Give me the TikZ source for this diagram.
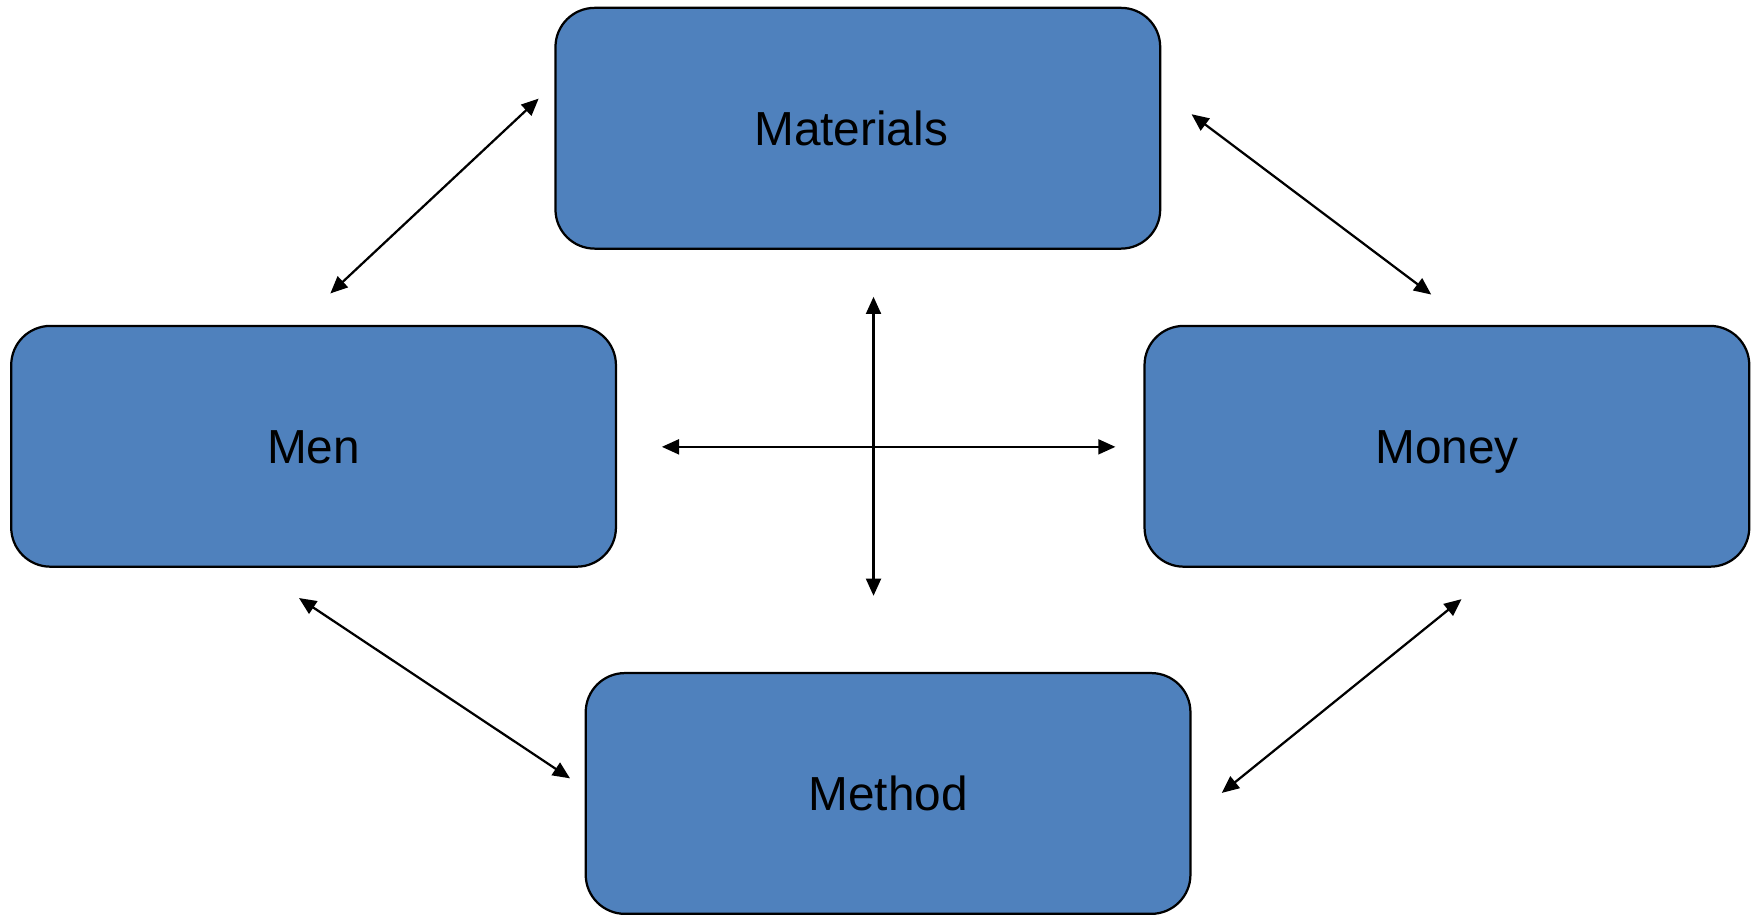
\documentclass[tikz,border=0pt]{standalone}
\usepackage{fontspec}
\setmainfont{Liberation Sans}
\usetikzlibrary{arrows.meta}
\definecolor{boxblue}{HTML}{4F81BD}
\tikzset{
  mbox/.style={draw=black, line width=0.6pt, fill=boxblue, rounded corners=10.5pt,
    minimum width=162pt, minimum height=64.5pt, inner sep=0pt,
    font=\fontsize{12.8pt}{14pt}\selectfont, text height=0.9em, text depth=0pt},
  link/.style={line width=0.6pt, {Triangle[length=4.6pt,width=4pt]}-{Triangle[length=4.6pt,width=4pt]}}
}
\begin{document}
\begin{tikzpicture}[x=0.3pt,y=-0.3pt]
\useasboundingbox (0,0) rectangle (1568,818);
\node[mbox] (mat) at (766,114.5) {\hspace*{-3.6pt}Materials};
\node[mbox] (men) at (280,398.5) {Men};
\node[mbox] (mon) at (1292,398.5) {Money};
\node[mbox] (met) at (793,708.5) {Method};
\coordinate (a1s) at (295,262); \coordinate (a1e) at (481,88);
\coordinate (a2s) at (1064,102); \coordinate (a2e) at (1278,263);
\coordinate (a3s) at (267,534); \coordinate (a3e) at (509,695);
\coordinate (a4s) at (1305,535); \coordinate (a4e) at (1091,708);
\coordinate (vs) at (780,265); \coordinate (ve) at (780,532);
\coordinate (hs) at (591,399); \coordinate (he) at (996,399);
\draw[link] (a1s) -- (a1e);
\draw[link] (a2s) -- (a2e);
\draw[link] (a3s) -- (a3e);
\draw[link] (a4s) -- (a4e);
\draw[link] (vs) -- (ve);
\draw[link] (hs) -- (he);
\end{tikzpicture}
\end{document}
